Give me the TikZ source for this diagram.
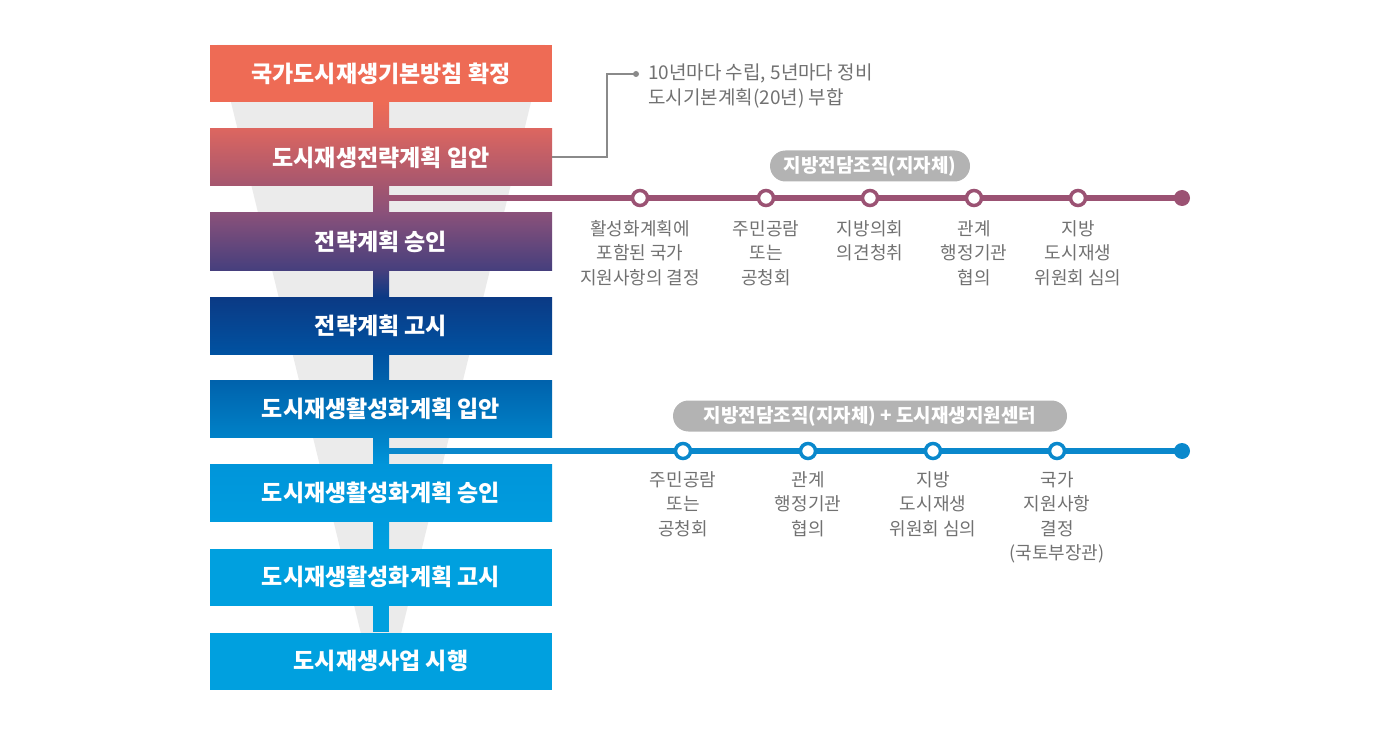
\documentclass[tikz,border=0pt]{standalone}
\usepackage{fontspec}
\setmainfont{Noto Sans CJK KR}
\usetikzlibrary{calc}
\definecolor{funnelgray}{HTML}{EBEBEB}
\definecolor{cA}{HTML}{EE6B55}
\definecolor{cB1}{HTML}{DC6660}
\definecolor{cB2}{HTML}{A4566F}
\definecolor{cC1}{HTML}{8A517A}
\definecolor{cC2}{HTML}{463F7D}
\definecolor{cD1}{HTML}{0B3A85}
\definecolor{cD2}{HTML}{0052A1}
\definecolor{cE1}{HTML}{0062AC}
\definecolor{cE2}{HTML}{0082C8}
\definecolor{cF1}{HTML}{0095DA}
\definecolor{cF2}{HTML}{009CDE}
\definecolor{cG}{HTML}{00A0DF}
\definecolor{mauve}{HTML}{9B5273}
\definecolor{tlblue}{HTML}{0A88CC}
\definecolor{pillgray}{HTML}{B3B3B3}
\definecolor{labelgray}{HTML}{717171}
\definecolor{callgray}{HTML}{8A8A8A}
\begin{document}
\begin{tikzpicture}[x=1pt,y=-1pt,
  stagebox/.style={minimum width=342pt,minimum height=57pt,inner sep=0pt,text=white,
    font=\bfseries\fontsize{23}{26}\selectfont},
  pill/.style={fill=pillgray,rounded corners=15.5pt,minimum height=31pt,inner sep=0pt,
    text=white,font=\bfseries\fontsize{19}{22}\selectfont},
  opendot/.style={circle,draw=#1,line width=3.5pt,fill=white,minimum size=15pt,inner sep=0pt},
  enddot/.style={circle,fill=#1,minimum size=16pt,inner sep=0pt},
  steplabel/.style={anchor=north,align=center,inner sep=0pt,text=labelgray,
    font=\fontsize{18}{24.5}\selectfont},
  tline/.style={line width=5.5pt,draw=#1},
  callline/.style={draw=callgray,line width=2pt}
]
\useasboundingbox (0,0) rectangle (1400,730);
% funnel background
\fill[funnelgray] (217,45) -- (545,45) -- (387.5,689) -- (374.5,689) -- cycle;

% stage boxes
\node[stagebox,fill=cA] (b1) at (381,73.5) {국가도시재생기본방침 확정};
\node[stagebox,top color=cB1,bottom color=cB2] (b2) at (381,157.5) {도시재생전략계획 입안};
\node[stagebox,top color=cC1,bottom color=cC2] (b3) at (381,241.5) {전략계획 승인};
\node[stagebox,top color=cD1,bottom color=cD2] (b4) at (381,325.5) {전략계획 고시};
\node[stagebox,top color=cE1,bottom color=cE2] (b5) at (381,409) {도시재생활성화계획 입안};
\node[stagebox,top color=cF1,bottom color=cF2] (b6) at (381,493) {도시재생활성화계획 승인};
\node[stagebox,fill=cG] (b7) at (381,577) {도시재생활성화계획 고시};
\node[stagebox,fill=cG] (b8) at (381,661) {도시재생사업 시행};

% spine segments
\shade[top color=cA,bottom color=cB1] ($(b1.south)+(-8,0)$) rectangle ($(b2.north)+(8,0)$);
\shade[top color=cB2,bottom color=cC1] ($(b2.south)+(-8,0)$) rectangle ($(b3.north)+(8,0)$);
\shade[top color=cC2,bottom color=cD1] ($(b3.south)+(-8,0)$) rectangle ($(b4.north)+(8,0)$);
\shade[top color=cD2,bottom color=cE1] ($(b4.south)+(-8,0)$) rectangle ($(b5.north)+(8,0)$);
\shade[top color=cE2,bottom color=cF1] ($(b5.south)+(-8,0)$) rectangle ($(b6.north)+(8,0)$);
\shade[top color=cF2,bottom color=cG] ($(b6.south)+(-8,0)$) rectangle ($(b7.north)+(8,0)$);
\fill[cG] ($(b7.south)+(-8,0)$) rectangle ($(b8.north)+(8,0)$);

% callout
\coordinate (k1) at (607,157);
\coordinate (k2) at (607,74);
\node[circle,fill=callgray,minimum size=6pt,inner sep=0pt] (kd) at (636,74) {};
\draw[callline] (b2.east |- k1) -- (k1) -- (k2) -- (kd.center);
\node[anchor=west,align=left,inner sep=0pt,text=labelgray,font=\fontsize{19}{25}\selectfont] (ktext) at (648,86.5)
  {10년마다 수립, 5년마다 정비\\도시기본계획(20년) 부합};

% timeline 1
\coordinate (s1) at (389,198);
\node[enddot=mauve] (e1) at (1182,198) {};
\draw[tline=mauve] (s1) -- (e1.center);
\node[opendot=mauve] (c1) at (640,198) {};
\node[opendot=mauve] (c2) at (766,198) {};
\node[opendot=mauve] (c3) at (870,198) {};
\node[opendot=mauve] (c4) at (974,198) {};
\node[opendot=mauve] (c5) at (1078,198) {};
\node[pill,minimum width=200pt] (p1) at (870,166) {지방전담조직(지자체)};
\node[steplabel] (l1) at (640,220) {활성화계획에\\포함된 국가\\지원사항의 결정};
\node[steplabel] (l2) at (766,220) {주민공람\\또는\\공청회};
\node[steplabel] (l3) at (870,220) {지방의회\\의견청취};
\node[steplabel] (l4) at (974,220) {관계\\행정기관\\협의};
\node[steplabel] (l5) at (1078,220) {지방\\도시재생\\위원회 심의};

% timeline 2
\coordinate (s2) at (389,451);
\node[enddot=tlblue] (e2) at (1182,451) {};
\draw[tline=tlblue] (s2) -- (e2.center);
\node[opendot=tlblue] (d1) at (683,451) {};
\node[opendot=tlblue] (d2) at (808,451) {};
\node[opendot=tlblue] (d3) at (933,451) {};
\node[opendot=tlblue] (d4) at (1057,451) {};
\node[pill,minimum width=394pt] (p2) at (870,416) {지방전담조직(지자체) + 도시재생지원센터};
\node[steplabel] (m1) at (683,471) {주민공람\\또는\\공청회};
\node[steplabel] (m2) at (808,471) {관계\\행정기관\\협의};
\node[steplabel] (m3) at (933,471) {지방\\도시재생\\위원회 심의};
\node[steplabel] (m4) at (1057,471) {국가\\지원사항\\결정\\(국토부장관)};
\end{tikzpicture}
\end{document}
